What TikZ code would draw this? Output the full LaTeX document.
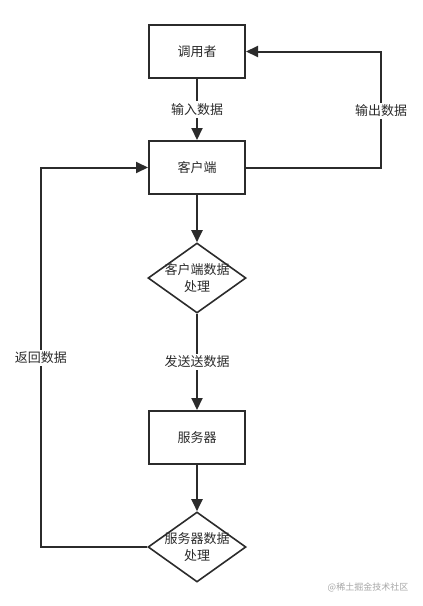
\documentclass[tikz,border=0pt]{standalone}
\usepackage{fontspec}
\setmainfont{Noto Sans CJK SC}
\usetikzlibrary{shapes.geometric,arrows.meta}
\definecolor{ink}{HTML}{2B2B2B}
\tikzset{
  box/.style={draw=ink, line width=2pt, minimum width=96pt, minimum height=53pt, inner sep=0pt, text=ink},
  decision/.style={diamond, draw=ink, line width=1.6pt, minimum width=98pt, minimum height=70pt, inner sep=0pt},
  txt/.style={align=center, text=ink, font=\fontsize{13}{17}\selectfont},
  line/.style={draw=ink, line width=2pt, -{Triangle[length=12pt,width=11pt]}},
  lbl/.style={fill=white, text=ink, inner sep=2pt, font=\fontsize{13}{15}\selectfont}
}
\begin{document}
\begin{tikzpicture}[x=1pt,y=-1pt, font=\fontsize{13}{15}\selectfont]
\useasboundingbox (0,0) rectangle (423,606);

\node[box] (caller) at (197,51.5) {调用者};
\node[box] (client) at (197,167.5) {客户端};
\node[decision, label={[txt]center:客户端数据\\处理}] (cproc) at (197,278) {};
\node[box] (server) at (197,437.5) {服务器};
\node[decision, label={[txt]center:服务器数据\\处理}] (sproc) at (197,547) {};

\coordinate (retx) at (41,358);
\coordinate (outx) at (381,111);

\draw[line] (caller) -- node[lbl]{输入数据} (client);
\draw[line] (client) -- (cproc);
\draw[line] (cproc) -- node[lbl]{发送送数据} (server);
\draw[line] (server) -- (sproc);
\draw[line] (sproc.west) -| (retx) node[lbl]{返回数据} |- (client.west);
\draw[line] (client.east) -| (outx) node[lbl]{输出数据} |- (caller.east);

\node[text=black!35, font=\fontsize{9}{10}\selectfont] (mark) at (368,587) {@稀土掘金技术社区};
\end{tikzpicture}
\end{document}
